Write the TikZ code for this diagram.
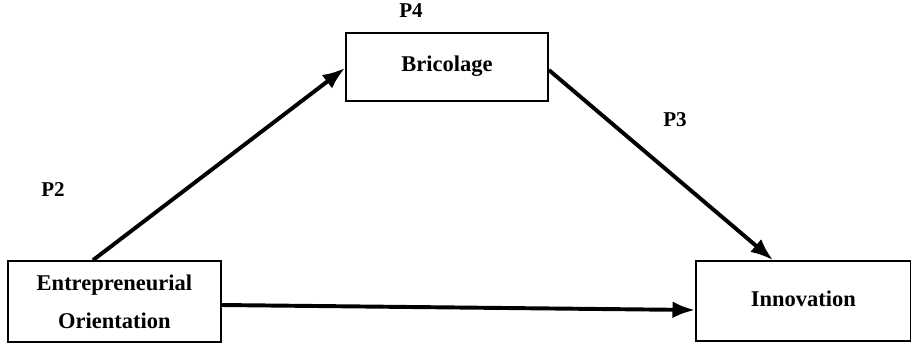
\documentclass[tikz,border=0pt]{standalone}
\usepackage{fontspec}
\setmainfont{Liberation Serif}
\usetikzlibrary{arrows.meta, positioning, calc}
\tikzset{
  block/.style = {draw, line width=1.3pt, anchor=south west, align=center, font=\fontsize{16}{27}\selectfont\bfseries},
  plabel/.style = {font=\fontsize{15}{18}\selectfont\bfseries},
  link/.style = {line width=2.8pt, -{Latex[length=16pt, width=12pt]}}
}

\begin{document}
\begin{tikzpicture}[x=0.025cm, y=-0.025cm]
		\useasboundingbox (0,0) rectangle (911,345);
		\coordinate (bricol) at (345, 102);
		\coordinate (entori) at (7,   343);
		\coordinate (innova) at (695, 342);

		\node[block, minimum width=5.05cm, minimum height=1.7cm] (BRI) at (bricol) {\raisebox{5pt}{Bricolage}};
		\node[block, minimum width=5.325cm, minimum height=2.025cm] (EO) at (entori) {Entrepreneurial\\Orientation};
		\node[block, minimum width=5.375cm, minimum height=2cm] (INN) at (innova) {\raisebox{3pt}{Innovation}};

		\node[plabel] (P4) at (411, 11) {P4};
		\node[plabel] (P2) at (53, 190) {P2};
		\node[plabel] (P3) at (675, 120) {P3};

		\draw[link] ($(EO.north west) + (86, 0)$) -- ($(BRI.south west) + (0, -34)$);
		\draw[link] ($(BRI.south east) + (0, -32)$) -- ($(INN.north west) + (78, 0)$);
		\draw[link] ($(EO.south east) + (0, -38)$) -- ($(INN.south west) + (0, -32)$);

	\end{tikzpicture}
\end{document}
